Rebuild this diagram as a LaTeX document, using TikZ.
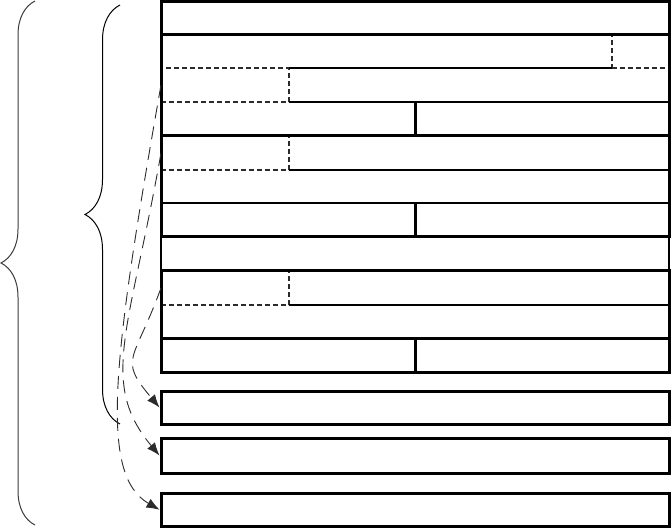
\documentclass[tikz,border=0pt]{standalone}
\usetikzlibrary{positioning,arrows.meta,decorations.pathreplacing}
\definecolor{ink}{HTML}{000000}
\definecolor{dashgray}{HTML}{2B2B2B}
\definecolor{bracegray}{HTML}{3A3A3A}

\begin{document}
\begin{tikzpicture}[x=1pt,y=1pt,
  heavy/.style={draw=ink,line width=3pt},
  light/.style={draw=ink,line width=1.4pt},
  fieldbox/.style={draw=dashgray,line width=1.4pt,dash pattern=on 5pt off 3pt,inner sep=0pt,outer sep=0pt},
  outbox/.style={draw=ink,line width=3pt,inner sep=0pt,minimum width=508pt},
  jump/.style={-{Latex[length=13pt,width=10pt]},draw=dashgray,line width=.9pt,dash pattern=on 13pt off 8pt},
  bracket/.style={draw=bracegray,line width=1pt,decorate,decoration={brace,amplitude=34pt}}]
  \useasboundingbox (0,0) rectangle (672,528);
  % dashed sub-fields
  \node[fieldbox,minimum width=57pt,minimum height=33pt] (fr) at (640.5,476.5){};
  \node[fieldbox,minimum width=128pt,minimum height=34pt] (fa) at (225,443){};
  \node[fieldbox,minimum width=128pt,minimum height=34pt] (fb) at (225,375){};
  \node[fieldbox,minimum width=128pt,minimum height=34pt] (fc) at (225,240){};
  % first block
  \draw[heavy] (161,526.5) rectangle (669,291);
  \draw[heavy] (161,493)--(669,493) (161,392)--(669,392);
  \draw[light] (289,460)--(612,460) (289,426)--(669,426) (289,358)--(669,358) (161,325)--(669,325);
  \draw[heavy] (415,426)--(415,392) (415,325)--(415,291);
  \draw[light] (161,291)--(161,257) (669,291)--(669,257);
  % second block
  \draw[heavy] (161,257) rectangle (669,156);
  \draw[light] (289,223)--(669,223);
  \draw[heavy] (161,189)--(669,189) (415,189)--(415,156);
  % separate rows
  \node[outbox,minimum height=33pt] (outa) at (415,120.5){};
  \node[outbox,minimum height=35pt] (outb) at (415,72.5){};
  \node[outbox,minimum height=33.5pt] (outc) at (415,18.25){};
  % braces
  \draw[bracket] (35,3) -- (35,527);
  \draw[bracket,draw=ink,decoration={amplitude=35pt}] (120,104) -- (120,523);
  % moves
  \draw[jump] (fa.west) to[out=260,in=150,out distance=280pt,in distance=70pt] (outc.west);
  \draw[jump] (fb.west) to[out=260,in=130,out distance=180pt,in distance=95pt] (outb.west);
  \draw[jump] (fc.west) to[out=250,in=130,out distance=80pt,in distance=65pt] (outa.west);
\end{tikzpicture}
\end{document}
